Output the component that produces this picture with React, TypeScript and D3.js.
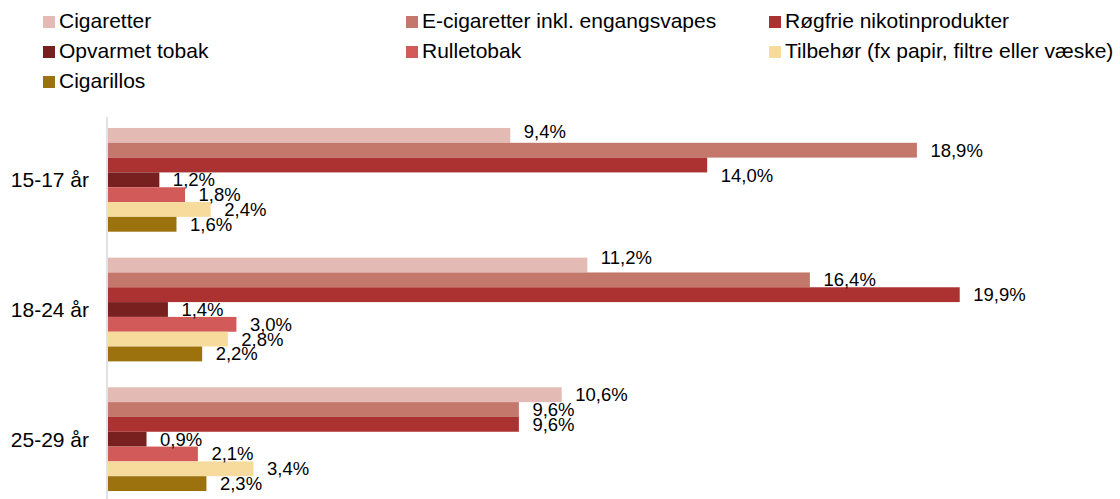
import React from "react";
import * as d3 from "d3";

const categories = ["15-17 år", "18-24 år", "25-29 år"];
const seriesNames = [
  "Cigaretter",
  "E-cigaretter inkl. engangsvapes",
  "Røgfrie nikotinprodukter",
  "Opvarmet tobak",
  "Rulletobak",
  "Tilbehør (fx papir, filtre eller væske)",
  "Cigarillos",
];
const seriesColors = ["#E3BBB4", "#C4786C", "#AC3232", "#782020", "#D25B59", "#F7DB9C", "#9C720E"];
const cigaretter = [9.4, 11.2, 10.6];
const eCigaretter = [18.9, 16.4, 9.6];
const roegfrie = [14.0, 19.9, 9.6];
const opvarmet = [1.2, 1.4, 0.9];
const rulletobak = [1.8, 3.0, 2.1];
const tilbehoer = [2.4, 2.8, 3.4];
const cigarillos = [1.6, 2.2, 2.3];
const seriesValues = [cigaretter, eCigaretter, roegfrie, opvarmet, rulletobak, tilbehoer, cigarillos];

// label vertical nudges (Excel's overlap avoidance), keyed "category|series"
const labelNudge: Record<string, number> = {
  "0|0": -4,
  "0|2": 11,
  "1|0": -8,
};

const W = 1120;
const H = 499;
const FONT = "Arial, 'Liberation Sans', sans-serif";

export default function App() {
  const x = d3.scaleLinear().domain([0, 20]).range([108, 964]);
  const y0 = d3.scaleBand<string>().domain(categories).range([115, 504]).paddingInner(0.2).paddingOuter(0.1);
  const y1 = d3.scaleBand<number>().domain(d3.range(seriesNames.length)).range([0, y0.bandwidth()]);
  const fmt = (v: number) => v.toFixed(1).replace(".", ",") + "%";

  const legendCols = [43, 406, 769];
  const legendRows = [28, 58, 88];

  return (
    <svg
      width={W}
      height={H}
      style={{ position: "absolute", left: 0, top: 0, background: "#fff" }}
      fontFamily={FONT}
    >
      {seriesNames.map((name, i) => {
        const cx = legendCols[i % 3];
        const by = legendRows[Math.floor(i / 3)];
        return (
          <g key={name}>
            <rect x={cx} y={by - 12} width={12} height={12} fill={seriesColors[i]} />
            <text x={cx + 16} y={by} fontSize={21} fill="#000">
              {name}
            </text>
          </g>
        );
      })}

      {categories.map((cat, ci) => (
        <g key={cat} transform={`translate(0,${y0(cat)})`}>
          {seriesValues.map((vals, si) => (
            <rect
              key={si}
              x={x(0)}
              y={y1(si)}
              width={x(vals[ci]) - x(0)}
              height={y1.bandwidth()}
              fill={seriesColors[si]}
            />
          ))}
          {seriesValues.map((vals, si) => (
            <text
              key={"l" + si}
              x={x(vals[ci]) + 13.5}
              y={(y1(si) as number) + y1.bandwidth() / 2 + (labelNudge[`${ci}|${si}`] || 0)}
              dy="0.35em"
              fontSize={18.5}
              fill="#000"
            >
              {fmt(vals[ci])}
            </text>
          ))}
          <text x={89} y={y0.bandwidth() / 2} dy="0.35em" textAnchor="end" fontSize={21} fill="#000">
            {cat}
          </text>
        </g>
      ))}

      <line x1={107} x2={107} y1={117} y2={H} stroke="#D9D9D9" strokeWidth={1.5} />
    </svg>
  );
}
